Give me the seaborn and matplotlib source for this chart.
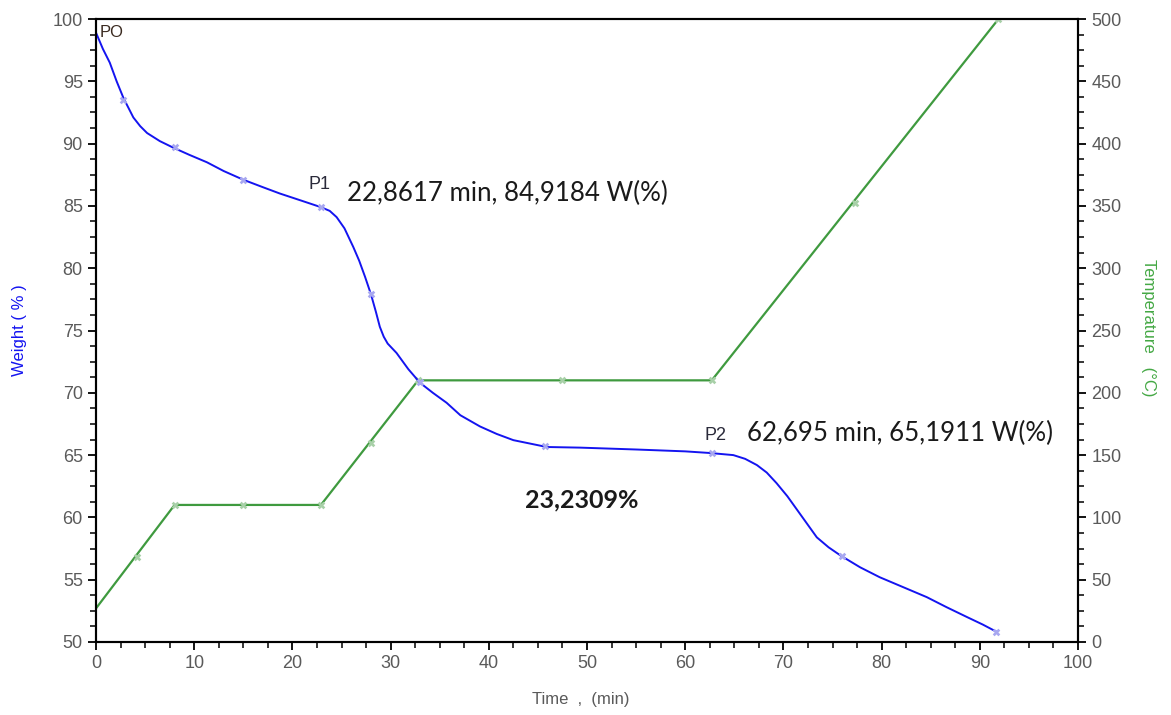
import matplotlib
matplotlib.use("Agg")
import matplotlib.pyplot as plt
import pandas as pd
import seaborn as sns
from matplotlib.ticker import MultipleLocator

# weight curve (time in min, weight in %)
time_w = [0, 0.7, 1.4, 2.1, 2.8, 3.8, 4.5, 5.2, 6.5, 7.8, 9.5, 11.3, 13, 15, 17,
          18.7, 21, 22.9, 23.8, 24.5, 25.3, 26.2, 26.8, 27.4, 28, 28.5, 28.9,
          29.3, 29.7, 30.6, 31.8, 33, 34.3, 35.7, 37.1, 39.1, 40.8, 42.5, 45.9,
          49.3, 55, 60, 62.5, 64.9, 66.1, 67.3, 68.3, 69.3, 70.4, 71.4, 72.4,
          73.4, 74.6, 75.8, 77.8, 79.8, 82.2, 84.6, 86.6, 88.7, 90.3, 91.75]
weight = [98.9, 97.6, 96.5, 95.0, 93.65, 92.1, 91.4, 90.85, 90.2, 89.7, 89.1,
          88.5, 87.8, 87.1, 86.5, 86.0, 85.4, 84.9, 84.6, 84.1, 83.2, 81.7, 80.6,
          79.3, 77.9, 76.5, 75.3, 74.5, 73.95, 73.2, 71.9, 70.8, 70.0, 69.2, 68.2,
          67.3, 66.7, 66.2, 65.65, 65.6, 65.45, 65.3, 65.17, 65.0, 64.7, 64.2,
          63.6, 62.75, 61.7, 60.6, 59.5, 58.4, 57.6, 56.95, 56.0, 55.2, 54.4,
          53.6, 52.8, 52.0, 51.4, 50.8]
wmark_t = [2.75, 8, 15, 22.86, 28, 33, 45.7, 62.7, 76, 91.6]
wmark_v = [93.5, 89.7, 87.1, 84.92, 77.9, 70.9, 65.7, 65.19, 56.9, 50.8]

# temperature program (time in min, temperature in °C)
time_t = [0, 8, 22.9, 32.8, 62.7, 91.9]
temp = [27, 110, 110, 210, 210, 500]
tmark_t = [4.2, 8, 15, 22.9, 28, 32.8, 47.5, 62.7, 77.3, 91.9]
tmark_v = [68, 110, 110, 110, 160, 210, 210, 210, 352, 500]

blue = "#1414f0"
green = "#3f9a3f"
grey = "#5a5a5a"
ann_font = ["Lato", "DejaVu Sans"]

sns.set_style("ticks")
plt.rcParams["font.family"] = ["Liberation Sans", "DejaVu Sans"]

fig = plt.figure(figsize=(11.71, 7.15), dpi=100)
ax = fig.add_axes([0.082, 0.1021, 0.8386, 0.8713])
ax2 = ax.twinx()

wdf = pd.DataFrame({"t": time_w, "w": weight})
tdf = pd.DataFrame({"t": time_t, "T": temp})

sns.lineplot(data=wdf, x="t", y="w", ax=ax, color=blue, linewidth=1.4, sort=False)
sns.scatterplot(x=wmark_t, y=wmark_v, ax=ax, color="#a8a8f0", marker="X", s=30,
                linewidth=0, zorder=3)
sns.lineplot(data=tdf, x="t", y="T", ax=ax2, color=green, linewidth=1.6, sort=False)
sns.scatterplot(x=tmark_t, y=tmark_v, ax=ax2, color="#a8d0a8", marker="X", s=30,
                linewidth=0, zorder=3)

ax.set_xlim(0, 100)
ax.set_ylim(50, 100)
ax2.set_ylim(0, 500)
ax.xaxis.set_major_locator(MultipleLocator(10))
ax.xaxis.set_minor_locator(MultipleLocator(2.5))
ax.yaxis.set_major_locator(MultipleLocator(5))
ax.yaxis.set_minor_locator(MultipleLocator(1.25))
ax2.yaxis.set_major_locator(MultipleLocator(50))
ax2.yaxis.set_minor_locator(MultipleLocator(12.5))

for a in (ax, ax2):
    for s in a.spines.values():
        s.set_color("black")
        s.set_linewidth(1.5)
    a.tick_params(which="major", direction="out", length=6, width=1.3,
                  labelsize=13, labelcolor=grey, color="black")
    a.tick_params(which="minor", direction="out", length=4, width=1.1, color="black")

ax.set_xlabel("Time  ,  (min)", fontsize=12, color=grey, va="center")
ax.xaxis.set_label_coords(0.494, -0.093)
ax.set_ylabel("Weight ( % )", fontsize=12, color=blue, va="center")
ax.yaxis.set_label_coords(-0.078, 0.50)
ax2.set_ylabel("Temperature   (°C)", fontsize=12, color="#44a844", rotation=270,
               va="center")
ax2.yaxis.set_label_coords(1.0713, 0.504)

# point labels
ax.text(0.4, 98.9, "PO", fontsize=12, color="#3a2a20", ha="left", va="center")
ax.text(22.8, 86.7, "P1", fontsize=13, color="#2a2a3a", ha="center", va="center")
ax.text(25.6, 86.0, "22,8617 min, 84,9184 W(%)", fontsize=18.6, color="#1a1a1a",
        family=ann_font, ha="left", va="center")
ax.text(63.1, 66.6, "P2", fontsize=13, color="#2a2a3a", ha="center", va="center")
ax.text(66.3, 66.7, "62,695 min, 65,1911 W(%)", fontsize=18.6, color="#1a1a1a",
        family=ann_font, ha="left", va="center")
ax.text(49.5, 61.4, "23,2309%", fontsize=18, fontweight="bold", color="#1a1a1a",
        family=ann_font, ha="center", va="center")

ax.set_zorder(ax2.get_zorder() + 1)
ax.patch.set_visible(False)

fig.savefig("out.png", dpi=100)
